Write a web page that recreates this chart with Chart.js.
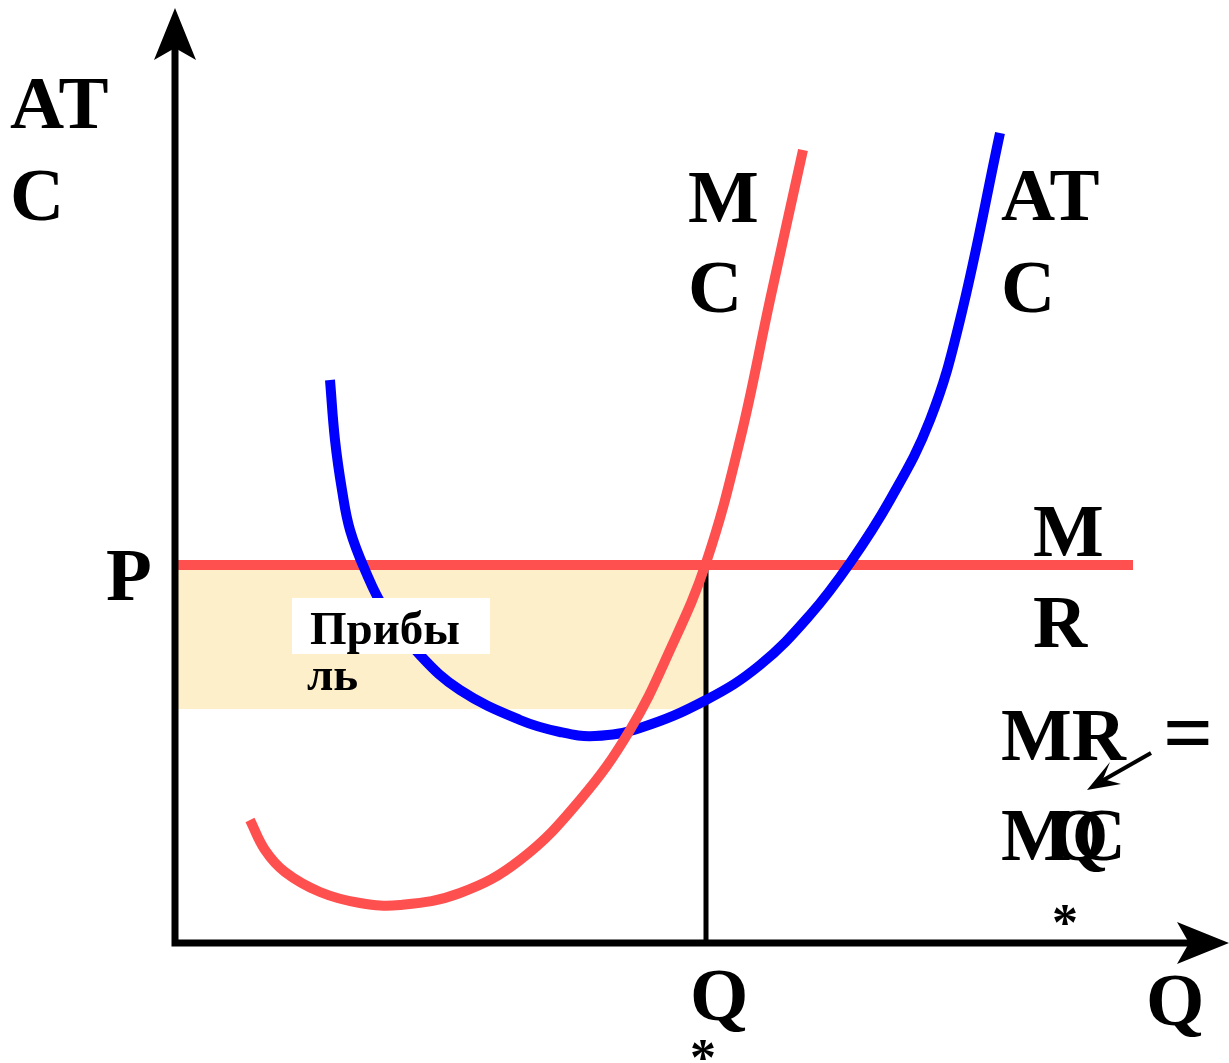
<!DOCTYPE html>
<html>
<head>
<meta charset="utf-8">
<script src="https://cdn.jsdelivr.net/npm/chart.js@4.4.1/dist/chart.umd.min.js"></script>
<style>
  html, body { margin: 0; padding: 0; background: #fff; }
  canvas { display: block; }
</style>
</head>
<body>
<canvas id="grafico" width="1229" height="1063"></canvas>
<script>
// curva MC (costo marginal)
const mcQ    = [7.5, 9, 11, 14.5, 18.5, 22.5, 28.5, 34.5, 40.5, 45.5, 49.5, 53.1, 56.5, 59.5, 62.8];
const mcCost = [12.3, 9.3, 7.1, 5.1, 4.0, 3.8, 5.0, 8.3, 14.3, 21.3, 29.3, 38.0, 50.3, 64.3, 79.3];

// curva ATC (costo total medio)
const atcQ    = [15.5, 16, 16.7, 17.5, 19, 21, 24.5, 28.5, 34.5, 38.5, 42, 46.5, 53.1, 58.5, 63.5, 67.5, 71.5, 75.5, 78.5, 82.5];
const atcCost = [56.3, 50.3, 45.3, 41.3, 37.3, 33.3, 28.8, 25.3, 22.3, 21.1, 20.7, 21.5, 24.3, 27.8, 32.8, 38.0, 44.3, 52.3, 62.3, 81.0];

// MR = P, Q*, piso del area de ganancia
const price = 37.8;
const mrEndQ = 95.8;
const qStar = 53.1;
const atcAtQStar = 23.4;

const axisMaxQ = 105.4;
const axisMaxCost = 93.5;

function pts(xs, ys) {
  return xs.map((x, i) => ({ x: x, y: ys[i] }));
}

const serif = '"Liberation Serif", "Times New Roman", serif';

// flecha tipo "stealth"
function arrowHead(ctx, tx, ty, dir) {
  ctx.save();
  ctx.translate(tx, ty);
  ctx.rotate(dir);
  ctx.beginPath();
  ctx.moveTo(0, 0);
  ctx.lineTo(-52, -21);
  ctx.lineTo(-40, 0);
  ctx.lineTo(-52, 21);
  ctx.closePath();
  ctx.fillStyle = '#000';
  ctx.fill();
  ctx.restore();
}

const dibujo = {
  id: 'dibujo',
  beforeDatasetsDraw(chart) {
    const ctx = chart.ctx;
    const xs = chart.scales.x, ys = chart.scales.y;
    const X = v => xs.getPixelForValue(v);
    const Y = v => ys.getPixelForValue(v);
    ctx.save();
    // area de ganancia
    ctx.fillStyle = '#fdefc9';
    ctx.fillRect(X(0), Y(price), X(qStar) - X(0), Y(atcAtQStar) - Y(price));
    // linea Q*
    ctx.strokeStyle = '#000';
    ctx.lineWidth = 5;
    ctx.beginPath();
    ctx.moveTo(X(qStar), Y(price));
    ctx.lineTo(X(qStar), Y(0));
    ctx.stroke();
    ctx.restore();
  },
  afterDatasetsDraw(chart) {
    const ctx = chart.ctx;
    const xs = chart.scales.x, ys = chart.scales.y;
    const X = v => xs.getPixelForValue(v);
    const Y = v => ys.getPixelForValue(v);

    // ejes
    ctx.save();
    ctx.strokeStyle = '#000';
    ctx.lineWidth = 7;
    ctx.lineCap = 'square';
    ctx.beginPath();
    ctx.moveTo(X(0), Y(axisMaxCost) + 30);
    ctx.lineTo(X(0), Y(0));
    ctx.lineTo(X(axisMaxQ) - 30, Y(0));
    ctx.stroke();
    arrowHead(ctx, X(0), Y(axisMaxCost), -Math.PI / 2);
    arrowHead(ctx, X(axisMaxQ), Y(0), 0);

    // caja Прибыль
    ctx.fillStyle = '#fff';
    ctx.fillRect(292, 598, 198, 56);

    ctx.fillStyle = '#000';
    ctx.textBaseline = 'alphabetic';
    ctx.font = 'bold 47px ' + serif;
    ctx.fillText('Прибы', 310, 644);
    ctx.fillText('ль', 307, 690);

    ctx.font = 'bold 75px ' + serif;
    ctx.fillText('AT', 10, 128);
    ctx.fillText('C', 10, 220);
    ctx.fillText('M', 688, 222);
    ctx.fillText('C', 688, 312);
    ctx.fillText('AT', 1001, 220);
    ctx.fillText('C', 1001, 312);
    ctx.fillText('P', 106, 600);
    ctx.fillText('M', 1033, 556);
    ctx.fillText('R', 1033, 647);
    ctx.fillText('MR', 1001, 760);
    ctx.fillText('MC', 1001, 860);
    ctx.fillText('Q', 1050, 860);
    ctx.fillText('Q', 690, 1020);
    ctx.fillText('Q', 1146, 1025);
    ctx.font = 'bold 88px ' + serif;
    ctx.fillText('=', 1163, 763);
    ctx.font = 'bold 52px ' + serif;
    ctx.fillText('*', 1052, 940);
    ctx.fillText('*', 690, 1075);

    // flecha MR -> Q
    ctx.lineWidth = 4;
    ctx.lineCap = 'butt';
    ctx.beginPath();
    ctx.moveTo(1151, 753);
    ctx.lineTo(1100, 782);
    ctx.stroke();
    ctx.beginPath();
    ctx.moveTo(1087, 790);
    ctx.lineTo(1110, 762);
    ctx.lineTo(1103, 779);
    ctx.lineTo(1121, 784);
    ctx.closePath();
    ctx.fill();
    ctx.restore();
  }
};

new Chart(document.getElementById('grafico'), {
  type: 'line',
  data: {
    datasets: [
      {
        label: 'MC',
        data: pts(mcQ, mcCost),
        borderColor: '#ff5050',
        borderWidth: 10,
        pointRadius: 0,
        fill: false,
        tension: 0.4
      },
      {
        label: 'ATC',
        data: pts(atcQ, atcCost),
        borderColor: '#0000ff',
        borderWidth: 10,
        pointRadius: 0,
        fill: false,
        tension: 0.4
      },
      {
        label: 'MR',
        data: [{ x: 0, y: price }, { x: mrEndQ, y: price }],
        borderColor: '#ff5050',
        borderWidth: 10,
        pointRadius: 0,
        fill: false,
        tension: 0
      }
    ]
  },
  options: {
    responsive: false,
    animation: false,
    devicePixelRatio: 1,
    layout: { padding: 0 },
    plugins: { legend: { display: false }, tooltip: { enabled: false } },
    scales: {
      x: { type: 'linear', min: -17.5, max: 105.4, display: false },
      y: { type: 'linear', min: -12, max: 94.3, display: false }
    }
  },
  plugins: [dibujo]
});
</script>
</body>
</html>
